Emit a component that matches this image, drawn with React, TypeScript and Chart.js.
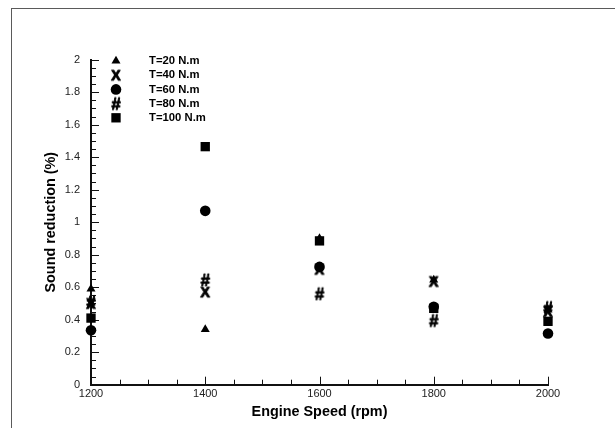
import React, { useEffect, useRef } from 'react';
import { Chart, registerables } from 'chart.js';

Chart.register(...registerables);

// ---- data ----
const speeds = [1200, 1400, 1600, 1800, 2000];
const t20 = [0.59, 0.34, 0.9, 0.645, 0.46];
const t40 = [0.5, 0.57, 0.71, 0.635, 0.45];
const t60 = [0.335, 1.07, 0.725, 0.48, 0.315];
const t80 = [0.51, 0.645, 0.56, 0.395, 0.475];
const t100 = [0.41, 1.465, 0.885, 0.47, 0.39];
const seriesLabels = ['T=20 N.m', 'T=40 N.m', 'T=60 N.m', 'T=80 N.m', 'T=100 N.m'];
const xTickValues = [1200, 1400, 1600, 1800, 2000];
const yTickValues = [0, 0.2, 0.4, 0.6, 0.8, 1, 1.2, 1.4, 1.6, 1.8, 2];
const xTitle = 'Engine Speed (rpm)';
const yTitle = 'Sound reduction (%)';

const FONT = '"Liberation Sans", Arial, Helvetica, sans-serif';

function glyph(ch: string, size: number, stroke: number): HTMLCanvasElement {
  const c = document.createElement('canvas');
  c.width = 24;
  c.height = 24;
  const g = c.getContext('2d') as CanvasRenderingContext2D;
  g.font = `bold ${size}px ${FONT}`;
  g.fillStyle = '#000';
  g.strokeStyle = '#000';
  g.lineWidth = stroke;
  g.lineJoin = 'round';
  g.textAlign = 'center';
  g.textBaseline = 'alphabetic';
  const m = g.measureText(ch);
  const asc = m.actualBoundingBoxAscent || size * 0.72;
  const desc = m.actualBoundingBoxDescent || 0;
  const y = 12 + (asc - desc) / 2;
  g.fillText(ch, 12, y);
  if (stroke > 0) g.strokeText(ch, 12, y);
  return c;
}

export default function App() {
  const ref = useRef<HTMLCanvasElement | null>(null);

  useEffect(() => {
    if (!ref.current) return;
    const xGlyph = glyph('X', 14, 1.0);
    const hashGlyph = glyph('#', 16.5, 0.9);

    const pts = (vals: number[]) => speeds.map((s, i) => ({ x: s, y: vals[i] }));

    const styles: any[] = [
      { pointStyle: 'triangle', radius: 5.2 },
      { pointStyle: xGlyph, radius: 5 },
      { pointStyle: 'circle', radius: 5.3 },
      { pointStyle: hashGlyph, radius: 5 },
      { pointStyle: 'rect', radius: 6.6 },
    ];
    const seriesValues = [t20, t40, t60, t80, t100];

    const datasets = seriesValues.map((vals, i) => ({
      label: seriesLabels[i],
      data: pts(vals),
      pointStyle: styles[i].pointStyle,
      pointRadius: styles[i].radius,
      pointHoverRadius: styles[i].radius,
      backgroundColor: '#000',
      borderColor: '#000',
      pointBorderWidth: 0,
      showLine: false,
      clip: false as any,
      order: 5 - i,
    }));

    const framePlugin = {
      id: 'frame',
      beforeDraw(chart: any) {
        const ctx = chart.ctx;
        ctx.save();
        ctx.strokeStyle = '#5a5a5a';
        ctx.lineWidth = 1;
        ctx.strokeRect(11.5, 8.5, 800, 800);
        ctx.restore();
      },
    };

    const ticksPlugin = {
      id: 'inwardTicks',
      beforeDatasetsDraw(chart: any) {
        const { ctx } = chart;
        const xs = chart.scales.x;
        const ys = chart.scales.y;
        const y0 = ys.getPixelForValue(0);
        const x0 = xs.getPixelForValue(1200);
        ctx.save();
        ctx.strokeStyle = '#111';
        ctx.lineWidth = 1;
        ctx.beginPath();
        for (let v = 1200; v <= 2000; v += 50) {
          const px = Math.round(xs.getPixelForValue(v)) + 0.5;
          const len = v % 200 === 0 ? 8 : 5;
          ctx.moveTo(px, y0);
          ctx.lineTo(px, y0 - len);
        }
        for (let i = 0; i <= 40; i++) {
          const py = Math.round(ys.getPixelForValue(i * 0.05)) + 0.5;
          const len = i % 4 === 0 ? 8 : 5;
          ctx.moveTo(x0, py);
          ctx.lineTo(x0 + len, py);
        }
        ctx.stroke();
        ctx.restore();
      },
    };

    const legendPlugin = {
      id: 'customLegend',
      afterDraw(chart: any) {
        const { ctx } = chart;
        const mx = 116;
        const tx = 149;
        const y0 = 61;
        const dy = 14.2;
        ctx.save();
        ctx.fillStyle = '#000';
        for (let i = 0; i < seriesLabels.length; i++) {
          const cy = y0 + i * dy;
          const st = styles[i];
          ctx.beginPath();
          if (st.pointStyle === 'triangle') {
            const r = st.radius;
            ctx.moveTo(mx, cy - r);
            ctx.lineTo(mx + r * 0.866, cy + r * 0.5);
            ctx.lineTo(mx - r * 0.866, cy + r * 0.5);
            ctx.closePath();
            ctx.fill();
          } else if (st.pointStyle === 'circle') {
            ctx.arc(mx, cy, st.radius, 0, Math.PI * 2);
            ctx.fill();
          } else if (st.pointStyle === 'rect') {
            const h = st.radius * Math.SQRT1_2;
            ctx.fillRect(mx - h, cy - h, 2 * h, 2 * h);
          } else {
            const img = st.pointStyle as HTMLCanvasElement;
            ctx.drawImage(img, mx - img.width / 2, cy - img.height / 2);
          }
          ctx.font = `bold 11.3px ${FONT}`;
          ctx.textAlign = 'left';
          ctx.textBaseline = 'middle';
          ctx.fillText(seriesLabels[i], tx, cy);
        }
        ctx.restore();
      },
    };

    const chart = new Chart(ref.current, {
      type: 'scatter',
      data: { datasets: datasets as any },
      plugins: [framePlugin, ticksPlugin, legendPlugin],
      options: {
        animation: false,
        responsive: false,
        devicePixelRatio: 1,
        layout: { padding: { top: 59.7, right: 67, left: 0, bottom: 0 } },
        plugins: {
          legend: { display: false },
          tooltip: { enabled: false },
        },
        elements: { point: { borderWidth: 0 } },
        scales: {
          x: {
            type: 'linear',
            min: 1200,
            max: 2000,
            afterFit: (s: any) => {
              s.height = 43.3;
            },
            afterBuildTicks: (s: any) => {
              s.ticks = xTickValues.map((v) => ({ value: v }));
            },
            grid: { display: true, drawOnChartArea: false, drawTicks: false },
            border: { display: true, color: '#111', width: 2 },
            ticks: {
              padding: 3,
              color: '#222',
              font: { family: FONT, size: 11 },
              maxRotation: 0,
              autoSkip: false,
              callback: (v: any) => String(v),
            },
            title: {
              display: true,
              text: xTitle,
              color: '#000',
              font: { family: FONT, size: 14.4, weight: 'bold' },
              padding: { top: 0, bottom: 7.4 },
            },
          },
          y: {
            type: 'linear',
            min: 0,
            max: 2,
            afterFit: (s: any) => {
              s.width = 91;
            },
            afterBuildTicks: (s: any) => {
              s.ticks = yTickValues.map((v) => ({ value: v }));
            },
            grid: { display: true, drawOnChartArea: false, drawTicks: false },
            border: { display: true, color: '#111', width: 2 },
            ticks: {
              padding: 11,
              color: '#222',
              font: { family: FONT, size: 11 },
              autoSkip: false,
              callback: (v: any) => String(+Number(v).toFixed(2)),
            },
            title: {
              display: true,
              text: yTitle,
              color: '#000',
              font: { family: FONT, size: 14.4, weight: 'bold' },
              padding: { top: 42, bottom: 0 },
            },
          },
        },
      } as any,
    });
    return () => chart.destroy();
  }, []);

  return (
    <div style={{ position: 'fixed', left: 0, top: 0, width: 615, height: 428, background: '#fff' }}>
      <canvas ref={ref} width={615} height={428} style={{ display: 'block', width: 615, height: 428 }} />
    </div>
  );
}
